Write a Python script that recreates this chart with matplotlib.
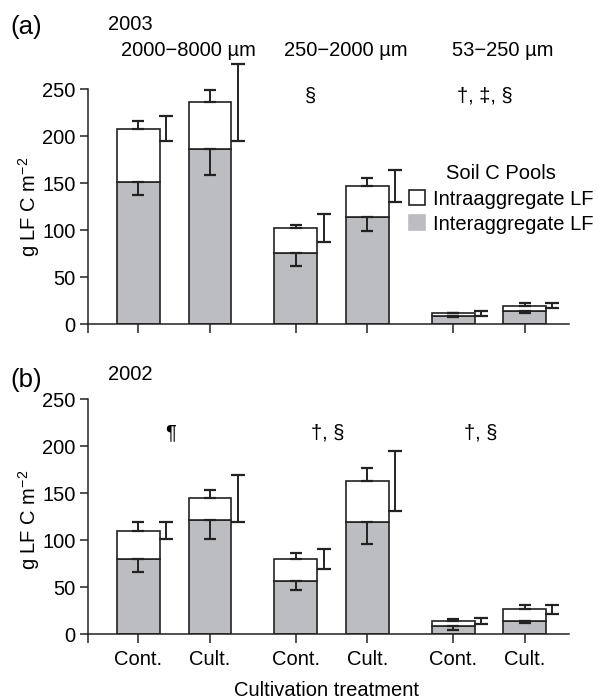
import numpy as np
import matplotlib
matplotlib.use('Agg')
import matplotlib.pyplot as plt
from matplotlib.patches import Patch

plt.rcParams['font.family'] = ['Liberation Sans', 'DejaVu Sans']
plt.rcParams['mathtext.fontset'] = 'custom'
plt.rcParams['mathtext.rm'] = 'Liberation Sans'
plt.rcParams['mathtext.it'] = 'Liberation Sans:italic'

# Data
treatments = ['Cont.', 'Cult.', 'Cont.', 'Cult.', 'Cont.', 'Cult.']
size_classes = ['2000\u22128000 \u00b5m', '250\u22122000 \u00b5m', '53\u2212250 \u00b5m']

# 2003
inter_2003 = [151, 186, 76, 114, 9, 14]
inter_se_2003 = [14, 27, 14, 15, 1.7, 2.8]
intra_2003 = [57, 50, 26, 33, 2.4, 5.5]
intra_se_2003 = [8, 13, 3, 8, 0.6, 2.5]
total_se_2003 = [13.5, 41, 15, 17.5, 2.5, 2.5]
marks_2003 = ['', '\u00a7', '\u2020, \u2021, \u00a7']

# 2002
inter_2002 = [79.5, 121, 56, 119, 8, 14]
inter_se_2002 = [13.5, 19.5, 9, 23, 3.5, 2.8]
intra_2002 = [30.5, 23.5, 23.5, 44, 5.8, 12.3]
intra_se_2002 = [9, 9, 7, 13.5, 1.8, 4.3]
total_se_2002 = [9, 25, 10.6, 31.5, 3.4, 5]
marks_2002 = ['\u00b6', '\u2020, \u00a7', '\u2020, \u00a7']

GRAY = '#bcbdc0'
DARK = '#222222'
FS = 14.5

x = np.array([0, 1, 2.2, 3.2, 4.4, 5.4])
xlim = (-0.706, 6.021)


def errbar(ax, xs, ys, lo, hi, capsize):
    cont = ax.errorbar(xs, ys, yerr=[lo, hi], fmt='none', ecolor=DARK,
                       elinewidth=1.4, capsize=capsize, capthick=1.6, zorder=5)
    for part in cont.lines:
        if part is None:
            continue
        if isinstance(part, tuple):
            for p in part:
                p.set_clip_on(False)
        else:
            part.set_clip_on(False)


def draw_panel(ax, inter, inter_se, intra, intra_se, total_se, show_labels):
    inter = np.array(inter)
    intra = np.array(intra)
    total = inter + intra
    zeros = np.zeros(len(x))

    ax.bar(x, inter, width=0.6, color=GRAY, edgecolor=DARK, linewidth=1.2, zorder=2)
    ax.bar(x, intra, bottom=inter, width=0.6, color='white', edgecolor=DARK,
           linewidth=1.2, zorder=2)

    errbar(ax, x, total, zeros, intra_se, 4.5)
    errbar(ax, x, inter, inter_se, zeros, 4.5)
    errbar(ax, x + 0.39, total, total_se, total_se, 5.0)

    ax.set_xlim(*xlim)
    ax.set_ylim(0, 250)
    ax.set_yticks([0, 50, 100, 150, 200, 250])
    ax.set_xticks([xlim[0]] + list(x))
    if show_labels:
        ax.set_xticklabels([''] + treatments)
    else:
        ax.set_xticklabels([''] * 7)
    for s in ['top', 'right']:
        ax.spines[s].set_visible(False)
    for s in ['left', 'bottom']:
        ax.spines[s].set_linewidth(1.1)
        ax.spines[s].set_color(DARK)
    ax.tick_params(direction='out', length=6, width=1.1, color=DARK,
                   labelsize=FS, pad=3)
    ax.tick_params(axis='x', length=6.5, pad=5)


fig = plt.figure(figsize=(5.98, 6.98), dpi=100)
ax_a = fig.add_axes([88 / 598, 1 - 324 / 698, 481 / 598, 234.7 / 698])
ax_b = fig.add_axes([88 / 598, 1 - 634 / 698, 481 / 598, 234.7 / 698])

draw_panel(ax_a, inter_2003, inter_se_2003, intra_2003, intra_se_2003, total_se_2003, False)
draw_panel(ax_b, inter_2002, inter_se_2002, intra_2002, intra_se_2002, total_se_2002, True)

group_x = [(x[0] + x[1]) / 2, (x[2] + x[3]) / 2, (x[4] + x[5]) / 2]

# size class labels and significance marks
for gx, lab in zip(group_x, size_classes):
    ax_a.text(gx + 0.2, 291, lab, ha='center', va='center', fontsize=FS, clip_on=False)
for gx, m, dx in zip(group_x, marks_2003, [0, -0.3, -0.05]):
    ax_a.text(gx + dx, 243, m, ha='center', va='center', fontsize=FS)
for gx, m, dx in zip(group_x, marks_2002, [-0.05, -0.05, -0.12]):
    ax_b.text(gx + dx, 214, m, ha='center', va='center', fontsize=FS)

# panel labels and years
fig.text(10 / 598, 1 - 27 / 698, '(a)', ha='left', va='center', fontsize=18.5)
fig.text(130 / 598, 1 - 24 / 698, '2003', ha='center', va='center', fontsize=FS)
fig.text(10 / 598, 1 - 380 / 698, '(b)', ha='left', va='center', fontsize=18.5)
fig.text(130 / 598, 1 - 374 / 698, '2002', ha='center', va='center', fontsize=FS)

# y labels
fig.text(29 / 598, 1 - 207 / 698, 'g LF C m$^{\u22122}$', rotation=90,
         ha='center', va='center', fontsize=FS)
fig.text(29 / 598, 1 - 520 / 698, 'g LF C m$^{\u22122}$', rotation=90,
         ha='center', va='center', fontsize=FS)

fig.text(326 / 598, 1 - 690 / 698, 'Cultivation treatment', ha='center',
         va='center', fontsize=FS)

# legend
handles = [Patch(facecolor='white', edgecolor=DARK, linewidth=1.2),
           Patch(facecolor=GRAY, edgecolor=GRAY, linewidth=1.2)]
fig.legend(handles, ['Intraaggregate LF', 'Interaggregate LF'],
           title='Soil C Pools', loc='center',
           bbox_to_anchor=(501 / 598, 1 - 199 / 698), frameon=False,
           fontsize=FS, title_fontsize=FS, handlelength=0.8, handleheight=0.8,
           handletextpad=0.4, labelspacing=0.3, borderpad=0.1)

fig.savefig('out.png', dpi=100)
